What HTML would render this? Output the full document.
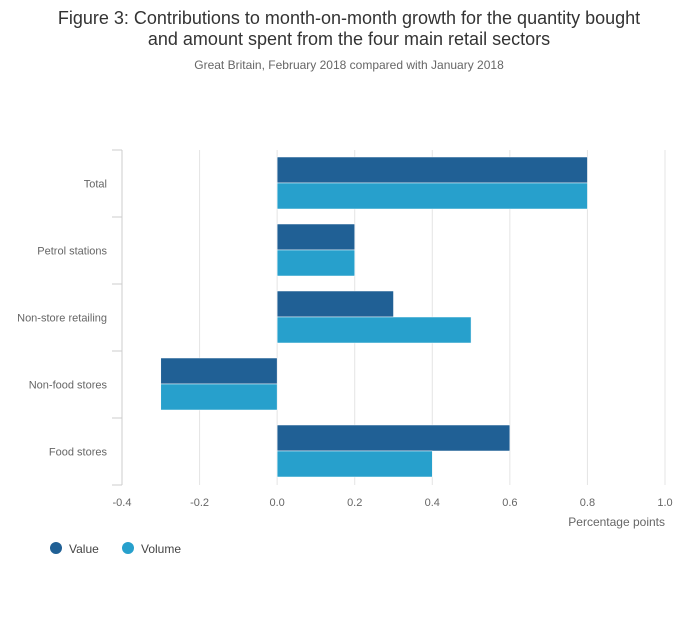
<!DOCTYPE html>
<html><head><meta charset="utf-8"><style>
body{margin:0;background:#fff;font-family:"Liberation Sans",sans-serif;}
svg text{font-family:"Liberation Sans",sans-serif;}
</style></head><body>
<svg id="chart" width="700" height="635">
<text x="349" y="24" text-anchor="middle" font-size="18" fill="#333">Figure 3: Contributions to month-on-month growth for the quantity bought</text>
<text x="349" y="45" text-anchor="middle" font-size="18" fill="#333">and amount spent from the four main retail sectors</text>
<text x="349" y="69" text-anchor="middle" font-size="12" fill="#666">Great Britain, February 2018 compared with January 2018</text>
<g id="grid"></g><g id="bars"></g><g id="axes"></g>
<text x="665" y="526" text-anchor="end" font-size="12" fill="#666">Percentage points</text>
<g>
<g><circle cx="56" cy="548" r="6" fill="#206095"/><text x="69" y="553" font-size="12" fill="#444">Value</text></g>
<g><circle cx="128" cy="548" r="6" fill="#27a0cc"/><text x="141" y="553" font-size="12" fill="#444">Volume</text></g>
</g>
</svg>
<script>
const categories=["Total","Petrol stations","Non-store retailing","Non-food stores","Food stores"];
const valueSeries=[0.8,0.2,0.3,-0.3,0.6];
const volumeSeries=[0.8,0.2,0.5,-0.3,0.4];
const xTicks=[-0.4,-0.2,0.0,0.2,0.4,0.6,0.8,1.0];
const NS="http://www.w3.org/2000/svg";
const x0=122,x1=665,topY=150,band=67;
function xs(v){return x0+(v-(-0.4))/(1.4)*(x1-x0);}
function mk(tag,attrs,parent){const e=document.createElementNS(NS,tag);for(const k in attrs)e.setAttribute(k,attrs[k]);parent.appendChild(e);return e;}
const grid=document.getElementById('grid'),bars=document.getElementById('bars'),axes=document.getElementById('axes');
xTicks.forEach(t=>{
 if(t!==-0.4){const l=mk('line',{x1:xs(t),x2:xs(t),y1:topY,y2:topY+band*categories.length,stroke:'#e4e4e4'},grid);
 
 }
 const tx=mk('text',{x:xs(t),y:506,'text-anchor':'middle','font-size':11,fill:'#666'},axes);
 tx.textContent=t.toFixed(1);
 
 
});
const ax=mk('line',{x1:x0,x2:x0,y1:topY,y2:topY+band*categories.length,stroke:'#ccc'},axes);


for(let i=0;i<=categories.length;i++){mk('line',{x1:x0-10,x2:x0,y1:topY+band*i,y2:topY+band*i,stroke:'#ccc'},axes);}
categories.forEach((c,i)=>{
 const y=topY+band*i;
 const lb=mk('text',{x:107,y:y+band/2+4,'text-anchor':'end','font-size':11,fill:'#666'},axes);
 lb.textContent=c;
 
 
 [[valueSeries,'#206095',7],[volumeSeries,'#27a0cc',33]].forEach(([s,col,off],k)=>{
  const v=s[i];const a=xs(Math.min(0,v)),b=xs(Math.max(0,v));
  const r=mk('rect',{x:a,y:y+off,width:b-a,height:26,fill:col,stroke:'#fff','stroke-width':0.5},bars);
  
  
 });
});
</script>
</body></html>
